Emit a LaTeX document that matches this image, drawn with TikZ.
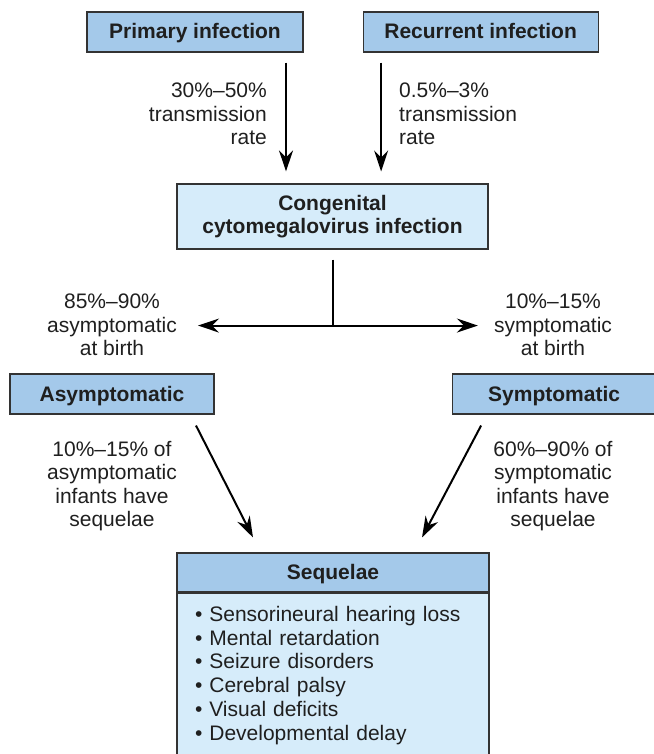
\documentclass[tikz,border=0pt]{standalone}
\usepackage{fontspec}
\setmainfont{Liberation Sans}
\usepackage{xcolor}
\usetikzlibrary{positioning, arrows.meta}

\definecolor{boxblue}{HTML}{A4C9EA}
\definecolor{paleblue}{HTML}{D6ECFA}
\definecolor{inkgray}{HTML}{333333}

\begin{document}
\begin{tikzpicture}[x=1pt, y=1pt,
		font=\fontsize{21}{23.6}\selectfont, text=black!88,
		bold/.style={font=\fontsize{21}{23.6}\selectfont\bfseries},
		blue box/.style={draw=inkgray, line width=1.1pt, fill=boxblue, bold, minimum height=40pt, text height=16pt, text depth=2pt},
		pale box/.style={draw=inkgray, line width=1.1pt, fill=paleblue},
		lbl/.style={inner sep=0pt, align=center},
		arr/.style={-{Stealth[length=21pt, width=14pt, inset=7pt]}, line width=2pt}]
		\useasboundingbox (0,0) rectangle (653,-754);
		
		\node[blue box, minimum width=216pt] (primary) at (195,-32) {Primary infection};
		\node[blue box, minimum width=235pt, right=59pt of primary] (recurrent) {Recurrent infection};
		
		\node[pale box, bold, minimum width=311pt, minimum height=65pt, align=center] (congenital) at (332.5,-216.5) {Congenital\\cytomegalovirus infection};
		
		\node[blue box, minimum width=204pt] (asym) at (112,-394) {Asymptomatic};
		\node[blue box, minimum width=204pt, right=237pt of asym] (sym) {Symptomatic};
		
		%---------
		\node[blue box, minimum width=312pt, minimum height=39pt] (seqhead) at (333,-572.5) {Sequelae};
		\node[pale box, anchor=north, text width=276pt, inner xsep=18pt, inner ysep=13pt, align=left, font=\fontsize{21}{23.8}\selectfont] (seqlist) at (seqhead.south) {\textbullet\ Sensorineural hearing loss\\\textbullet\ Mental retardation\\\textbullet\ Seizure disorders\\\textbullet\ Cerebral palsy\\\textbullet\ Visual deficits\\\textbullet\ Developmental delay};
		
		\node[lbl, align=right, anchor=east] (rateP) at (267,-114) {30\%--50\%\\transmission\\rate};
		\node[lbl, align=left, anchor=west] (rateR) at (399,-114) {0.5\%--3\%\\transmission\\rate};
		\node[lbl] (birthA) at (112,-325) {85\%--90\%\\asymptomatic\\at birth};
		\node[lbl] (birthS) at (553,-325) {10\%--15\%\\symptomatic\\at birth};
		\node[lbl] (seqA) at (112,-486) {10\%--15\% of\\asymptomatic\\infants have\\sequelae};
		\node[lbl] (seqS) at (553,-486) {60\%--90\% of\\symptomatic\\infants have\\sequelae};
		
		\coordinate (pdrop) at ([xshift=91pt]primary.south);
		\coordinate (rdrop) at ([xshift=-99.5pt]recurrent.south);
		\coordinate (split) at ([yshift=-76pt]congenital.south);
		
		\draw[arr, shorten <=10pt, shorten >=12pt] (pdrop)--(pdrop |- congenital.north);
		\draw[arr, shorten <=10pt, shorten >=12pt] (rdrop)--(rdrop |- congenital.north);
		\draw[line width=2pt, shorten <=10pt] (congenital.south)--(split);
		\draw[arr, shorten >=21pt] (split)--(split -| birthA.east);
		\draw[arr, shorten >=16pt] (split)--(split -| birthS.west);
		\draw[arr] ([shift={(84,-11)}]asym.south)--([shift={(-80,15)}]seqhead.north);
		\draw[arr] ([shift={(-73,-11)}]sym.south)--([shift={(89,15)}]seqhead.north);
	\end{tikzpicture}
\end{document}
